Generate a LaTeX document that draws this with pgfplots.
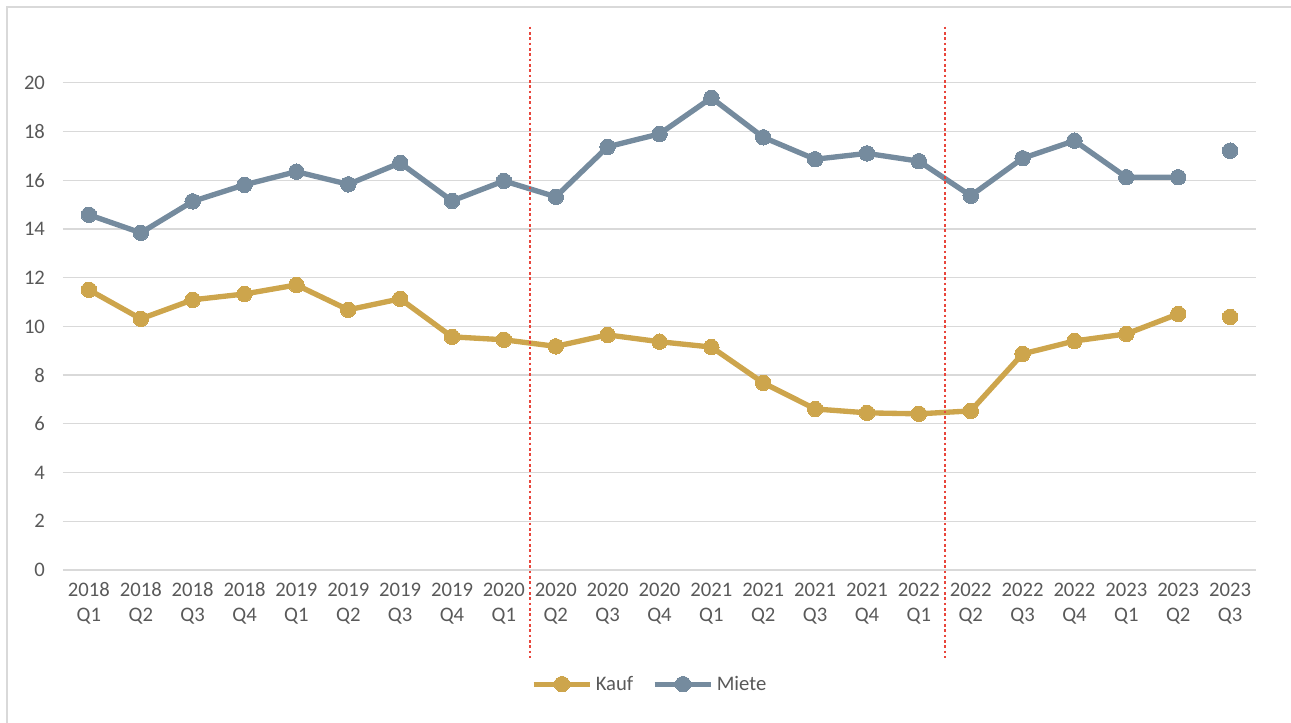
\documentclass[border=0pt]{standalone}
\usepackage{pgfplots}
\pgfplotsset{compat=1.18}
\usepackage{pgfplotstable}
\usepackage{fontspec}
\setmainfont{Carlito}
\definecolor{kauf}{RGB}{205,165,76}
\definecolor{miete}{RGB}{117,139,158}
\definecolor{txt}{RGB}{89,89,89}
\definecolor{gridc}{RGB}{217,217,217}
\definecolor{redl}{RGB}{232,70,60}

\pgfplotstableread{
x y
0 11.50
1 10.31
2 11.09
3 11.33
4 11.70
5 10.68
6 11.13
7 9.57
8 9.45
9 9.18
10 9.65
11 9.37
12 9.15
13 7.68
14 6.61
15 6.45
16 6.41
17 6.53
18 8.87
19 9.40
20 9.69
21 10.51
21.5 nan
22 10.39
}\kauf

\pgfplotstableread{
x y
0 14.58
1 13.84
2 15.13
3 15.81
4 16.35
5 15.83
6 16.71
7 15.15
8 15.97
9 15.32
10 17.37
11 17.90
12 19.38
13 17.76
14 16.86
15 17.10
16 16.78
17 15.36
18 16.90
19 17.62
20 16.12
21 16.12
21.5 nan
22 17.21
}\miete

\begin{document}
\begin{tikzpicture}
\useasboundingbox (-47.25pt,-114pt) rectangle (921pt,427.5pt);
\draw[gridc, line width=1pt] (-42pt,-120pt) -- (-42pt,422.25pt) -- (930pt,422.25pt);
\begin{axis}[
  at={(0,0)}, anchor=south west,
  scale only axis,
  width=894.75pt, height=402pt,
  xmin=-0.5, xmax=22.5,
  ymin=0, ymax=22,
  ytick={0,2,...,20},
  xtick={0,...,22},
  xticklabels={{2018\\Q1},{2018\\Q2},{2018\\Q3},{2018\\Q4},{2019\\Q1},{2019\\Q2},{2019\\Q3},{2019\\Q4},{2020\\Q1},{2020\\Q2},{2020\\Q3},{2020\\Q4},{2021\\Q1},{2021\\Q2},{2021\\Q3},{2021\\Q4},{2022\\Q1},{2022\\Q2},{2022\\Q3},{2022\\Q4},{2023\\Q1},{2023\\Q2},{2023\\Q3}},
  axis line style={draw=none},
  major tick length=0pt,
  xmajorgrids=false,
  ymajorgrids=true,
  y grid style={gridc, line width=1pt},
  /pgf/number format/assume math mode=true,
  tick label style={font=\fontsize{15.5}{18.75}\selectfont, text=txt},
  x tick label style={align=center, yshift=-6pt},
  y tick label style={xshift=-10pt},
  clip=false,
  unbounded coords=jump,
  legend style={at={(0.492,-0.213)}, anchor=center, draw=none, fill=none,
    font=\fontsize{15.5}{18.75}\selectfont, text=txt, legend columns=2,
    /tikz/every even column/.append style={column sep=12pt}},
  legend image code/.code={\draw[mark repeat=2,mark phase=2] plot coordinates {(0cm,0cm) (0.75cm,0cm) (1.5cm,0cm)};},
]
\addplot[kauf, line width=4pt, mark=*, mark size=5.8pt, mark options={line width=0pt}] table {\kauf};
\addlegendentry{Kauf}
\addplot[miete, line width=4pt, mark=*, mark size=5.8pt, mark options={line width=0pt}] table {\miete};
\addlegendentry{Miete}
\draw[redl, line width=1.8pt, dash pattern=on 2pt off 2pt] (axis cs:8.5,22.3) -- (axis cs:8.5,-3.6);
\draw[redl, line width=1.8pt, dash pattern=on 2pt off 2pt] (axis cs:16.5,22.3) -- (axis cs:16.5,-3.6);
\end{axis}
\end{tikzpicture}
\end{document}
